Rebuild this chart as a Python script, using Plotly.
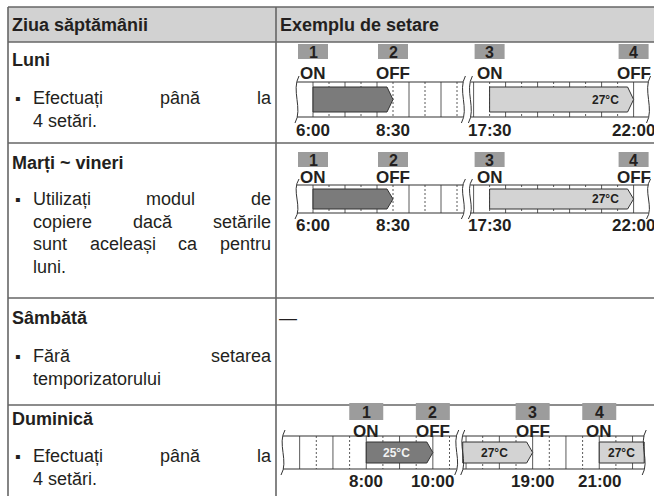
import plotly.graph_objects as go

# ---------------- data ----------------
header_labels = ["Ziua săptămânii", "Exemplu de setare"]
day_titles = ["Luni", "Marți ~ vineri", "Sâmbătă", "Duminică"]
day_notes = [
    ["Efectuați până la", "4 setări."],
    ["Utilizați modul de", "copiere dacă setările", "sunt aceleași ca pentru", "luni."],
    ["Fără setarea", "temporizatorului"],
    ["Efectuați până la", "4 setări."],
]
no_schedule_mark = "—"

step_numbers = ["1", "2", "3", "4"]

weekday_actions = ["ON", "OFF", "ON", "OFF"]
weekday_times = ["6:00", "8:30", "17:30", "22:00"]
weekday_period_start = ["6:00", "17:30"]
weekday_period_end = ["8:30", "22:00"]
weekday_period_temp = ["", "27°C"]
weekday_period_shade = ["dark", "light"]
weekday_window = [("5:30", "10:42"), ("16:54", "22:28")]

sunday_actions = ["ON", "OFF", "OFF", "ON"]
sunday_times = ["8:00", "10:00", "19:00", "21:00"]
sunday_period_start = ["8:00", None, "21:00"]   # None: continues from the break
sunday_period_end = ["10:00", "19:00", None]     # None: continues past the edge
sunday_period_temp = ["25°C", "27°C", "27°C"]
sunday_period_shade = ["dark", "light", "light"]
sunday_window = [("5:30", "10:43"), ("16:54", "22:21")]

# ---------------- style ----------------
W, H = 654, 496
FONT = "Liberation Sans, Arial, sans-serif"
TXT = "#231f20"
GRID = "#5a5a5a"
BAR = "#333333"
HEADER_BG = "#d2d2d2"
BOX_BG = "#9c9c9c"
SHADE = {"dark": "#7b7b7b", "light": "#d3d3d3"}
SHADE_TXT = {"dark": "#f2f2f2", "light": TXT}

CHAR_W = {' ': 278, '.': 278, '~': 584, 'a': 556, 'b': 556, 'c': 500, 'd': 556, 'e': 556,
          'f': 278, 'g': 556, 'h': 556, 'i': 222, 'j': 222, 'k': 500, 'l': 222, 'm': 833,
          'n': 556, 'o': 556, 'p': 556, 'q': 556, 'r': 333, 's': 500, 't': 278, 'u': 556,
          'v': 500, 'w': 722, 'x': 500, 'y': 500, 'z': 500, 'ă': 556, 'â': 556, 'î': 278,
          'ș': 500, 'ț': 278, 'E': 667, 'F': 611, 'U': 722}

shapes, annotations = [], []


def hours(t):
    h, m = t.split(":")
    return int(h) + int(m) / 60


def add_line(x0, y0, x1, y1, color=GRID, width=1, dash="solid"):
    shapes.append(dict(type="line", xref="x", yref="y", x0=x0, y0=y0, x1=x1, y1=y1,
                       line=dict(color=color, width=width, dash=dash)))


def add_path(path, fill=None, color=BAR, width=1):
    d = dict(type="path", xref="x", yref="y", path=path, line=dict(color=color, width=width))
    if fill:
        d["fillcolor"] = fill
    shapes.append(d)


def add_text(x, y, s, size, bold=False, color=TXT, xanchor="left"):
    annotations.append(dict(x=x, y=y, xref="x", yref="y", text=f"<b>{s}</b>" if bold else s,
                            showarrow=False, xanchor=xanchor, yanchor="middle", borderpad=0,
                            borderwidth=0, font=dict(family=FONT, size=size, color=color)))


def width_of(s, size):
    return sum(CHAR_W.get(c, 556) for c in s) * size / 1000


# ---------------- table ----------------
TABLE_L, TABLE_TOP, COL_X, HEAD_B = 8, 7, 276, 42
row_tops = [HEAD_B, 143, 298, 405]
shapes.append(dict(type="rect", xref="x", yref="y", x0=TABLE_L, x1=W + 5, y0=TABLE_TOP, y1=HEAD_B,
                   fillcolor=HEADER_BG, line=dict(width=0)))
for yy in [TABLE_TOP] + row_tops:
    add_line(TABLE_L, yy, W + 5, yy, color="#666666", width=1.6)
for xx in [TABLE_L, COL_X]:
    add_line(xx, TABLE_TOP, xx, H + 5, color="#666666", width=1.6)

add_text(12, 25, header_labels[0], 18, bold=True)
add_text(COL_X + 4, 25, header_labels[1], 18, bold=True)

title_y = [60, 163, 318, 419]
note_first_y = [98, 199, 356, 456]
LINE_STEP = 22.7
TEXT_L, TEXT_R, BULLET_X = 33, 271, 15
for i, title in enumerate(day_titles):
    add_text(12, title_y[i], title, 18, bold=True)
    lines = day_notes[i]
    for j, ln in enumerate(lines):
        y = note_first_y[i] + j * LINE_STEP
        if j == 0:
            add_text(BULLET_X, y, "▪", 16)
        words = ln.split()
        justify = j < len(lines) - 1 and len(words) > 1
        if not justify:
            add_text(TEXT_L, y, ln, 18)
            continue
        ws = [width_of(w, 18) for w in words]
        gap = (TEXT_R - TEXT_L - sum(ws)) / (len(words) - 1)
        x = TEXT_L
        for w, wd in zip(words, ws):
            add_text(x, y, w, 18)
            x += wd + gap

add_text(COL_X + 3, 318, no_schedule_mark, 18)


# ---------------- timelines ----------------
def draw_timeline(g, window, actions, times, p_start, p_end, p_temp, p_shade, temp_align):
    (a0, a1), (b0, b1) = [(hours(s), hours(e)) for s, e in window]
    xb0 = g["x0"] + (a1 - a0) * g["pxh"] + g["gap"]

    def tx(t):
        return g["x0"] + (t - a0) * g["pxh"] if t <= a1 + 1e-9 else xb0 + (t - b0) * g["pxh"]

    top, bot = g["bar_top"], g["bar_bot"]
    xa_end, xb_end = tx(a1), tx(b1)

    # half-hour grid
    for lo, hi in [(a0, a1), (b0, b1)]:
        t = (int(lo * 2) + 1) / 2
        while t < hi - 0.05:
            if t > lo + 0.05:
                add_line(tx(t), top, tx(t), bot, color=GRID, width=1,
                         dash="solid" if abs(t - round(t)) < 1e-6 else "2px,2px")
            t += 0.5
    # bar outline
    for xl, xr in [(g["x0"], xa_end), (xb0, xb_end)]:
        add_line(xl, top, xr, top, color=BAR, width=1.2)
        add_line(xl, bot, xr, bot, color=BAR, width=1.2)

    # periods
    pad, tip = g["arrow_pad"], 6
    for s, e, temp, shade, align in zip(p_start, p_end, p_temp, p_shade, temp_align):
        xs = tx(hours(s)) if s else xb0
        yt, yb = top + pad, bot - pad
        ym = (yt + yb) / 2
        if e:
            xe = tx(hours(e))
            path = f"M {xs},{yt} L {xe - tip},{yt} L {xe},{ym} L {xe - tip},{yb} L {xs},{yb} Z"
            body_end = xe - tip
        else:
            xe = xb_end
            path = f"M {xs},{yt} L {xe},{yt} L {xe},{yb} L {xs},{yb} Z"
            body_end = xe
        add_path(path, fill=SHADE[shade], color=BAR, width=1)
        if temp:
            if align == "right":
                add_text(body_end - 9, ym, temp, 12, bold=True, color=SHADE_TXT[shade], xanchor="right")
            else:
                add_text((xs + body_end) / 2, ym, temp, 12, bold=True, color=SHADE_TXT[shade],
                         xanchor="center")

    # wavy break lines
    ext = 6
    for xw in [g["x0"], xa_end, xb0, xb_end]:
        y0, y1 = top - ext, bot + ext
        hh = y1 - y0
        add_path(f"M {xw + 2},{y0} C {xw - 6},{y0 + hh * 0.3} {xw + 6},{y0 + hh * 0.7} {xw - 2},{y1}",
                 color=BAR, width=1)

    # steps
    for num, act, t in zip(step_numbers, actions, times):
        x = tx(hours(t))
        shapes.append(dict(type="rect", xref="x", yref="y", x0=x - g["box_w"] / 2, x1=x + g["box_w"] / 2,
                           y0=g["box_top"], y1=g["box_top"] + g["box_h"], fillcolor=BOX_BG,
                           line=dict(width=0)))
        add_text(x, g["box_top"] + g["box_h"] / 2 + 1, num, 16, bold=True, xanchor="center")
        add_text(x, g["act_y"], act, 17, bold=True, xanchor="center")
        add_text(x, g["time_y"], t, 17, bold=True, xanchor="center")


geo_mon = dict(x0=297, pxh=32, gap=7, box_top=44, box_h=15, box_w=30, act_y=73,
               bar_top=82, bar_bot=117, arrow_pad=5, time_y=130)
geo_tue = dict(geo_mon, box_top=152, act_y=177, bar_top=185, bar_bot=213, arrow_pad=4, time_y=225)
geo_sun = dict(x0=283, pxh=33.3, gap=6, box_top=403, box_h=17, box_w=34, act_y=431,
               bar_top=436, bar_bot=469, arrow_pad=6, time_y=481)

for g in (geo_mon, geo_tue):
    draw_timeline(g, weekday_window, weekday_actions, weekday_times, weekday_period_start,
                  weekday_period_end, weekday_period_temp, weekday_period_shade, ["center", "right"])
draw_timeline(geo_sun, sunday_window, sunday_actions, sunday_times, sunday_period_start,
              sunday_period_end, sunday_period_temp, sunday_period_shade, ["center", "center", "center"])

fig = go.Figure(go.Scatter(x=[], y=[], hoverinfo="skip", showlegend=False))
fig.update_layout(
    width=W, height=H, margin=dict(l=0, r=0, t=0, b=0),
    paper_bgcolor="white", plot_bgcolor="white",
    xaxis=dict(range=[0, W], visible=False, fixedrange=True),
    yaxis=dict(range=[H, 0], visible=False, fixedrange=True),
    shapes=shapes, annotations=annotations, showlegend=False,
)
fig.write_html("out.html", config={"displayModeBar": False},
               post_script="document.body.style.margin='0';document.body.style.overflow='hidden';")
